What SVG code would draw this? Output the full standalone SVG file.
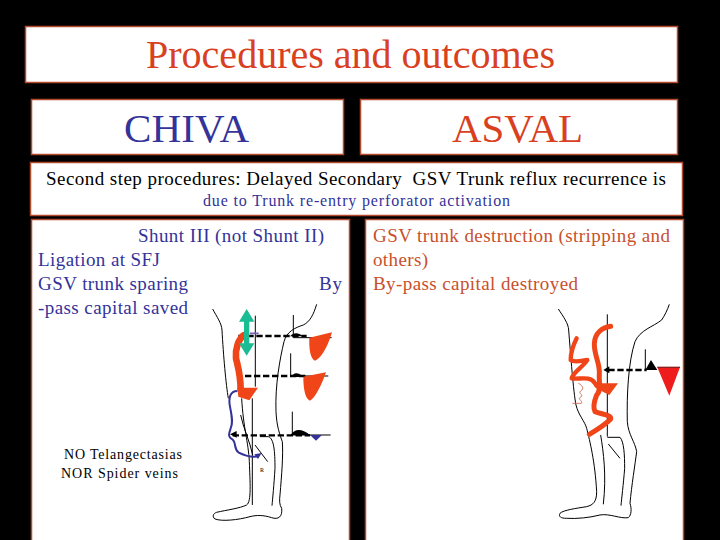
<svg xmlns="http://www.w3.org/2000/svg" width="720" height="540" viewBox="0 0 720 540">
<style>
.box{fill:#fff;stroke:#b5492c;stroke-width:1.5}
text{font-family:"Liberation Serif","Times New Roman",serif}
.r{fill:#d8401f}.b{fill:#333399}.k{fill:#000}
.s{fill:#c8502c}
.leg{fill:none;stroke:#000;stroke-width:3}
.dash{fill:none;stroke:#000;stroke-width:7;stroke-dasharray:19 8}
.ora{fill:#f04518;stroke:none}
.orl{fill:none;stroke:#f04518;stroke-linecap:round;stroke-linejoin:round}
.blu{fill:none;stroke:#333399;stroke-width:6}
</style>
<rect width="720" height="540" fill="#000"/>
<g id="title"><rect class="box" x="25.500" y="26.500" width="652" height="56"/><text class="r" x="146" y="68" font-size="40" textLength="409" lengthAdjust="spacing">Procedures and outcomes</text></g>
<g id="chiva"><rect class="box" x="31.500" y="99.500" width="312" height="55"/><text class="b" x="124" y="142" font-size="41" textLength="125" lengthAdjust="spacing">CHIVA</text></g>
<g id="asval"><rect class="box" x="360.500" y="99.500" width="317" height="55"/><text class="r" x="452" y="142" font-size="41" textLength="131" lengthAdjust="spacing">ASVAL</text></g>
<g id="second"><rect class="box" x="30.500" y="162.500" width="652" height="53"/>
<text class="k" x="46" y="185" font-size="19" textLength="620" lengthAdjust="spacing" xml:space="preserve">Second step procedures: Delayed Secondary  GSV Trunk reflux recurrence is</text>
<text class="b" x="203" y="206" font-size="16" textLength="307" lengthAdjust="spacing">due to Trunk re-entry perforator activation</text></g>
<g id="left-panel"><rect class="box" x="31.500" y="219.500" width="318" height="322"/>
<text class="b" x="138" y="242" font-size="19" textLength="186" lengthAdjust="spacing">Shunt III (not Shunt II)</text>
<text class="b" x="38" y="266" font-size="19" textLength="122" lengthAdjust="spacing">Ligation at SFJ</text>
<text class="b" x="38" y="290" font-size="19" textLength="150" lengthAdjust="spacing">GSV trunk sparing</text>
<text class="b" x="319" y="290" font-size="19" textLength="23" lengthAdjust="spacing">By</text>
<text class="b" x="38" y="314" font-size="19" textLength="150" lengthAdjust="spacing">-pass capital saved</text>
<text class="k" x="64" y="459" font-size="14" textLength="118" lengthAdjust="spacing">NO Telangectasias</text>
<text class="k" x="61" y="478" font-size="14" textLength="117" lengthAdjust="spacing">NOR Spider veins</text>
<text class="k" x="260" y="472" font-size="6">R</text>
</g>
<g id="right-panel"><rect class="box" x="365.500" y="219.500" width="318" height="322"/>
<text class="s" x="373" y="242" font-size="19" textLength="297" lengthAdjust="spacing">GSV trunk destruction (stripping and</text>
<text class="s" x="373" y="266" font-size="19" textLength="55" lengthAdjust="spacing">others)</text>
<text class="s" x="373" y="290" font-size="19" textLength="205" lengthAdjust="spacing">By-pass capital destroyed</text>
</g>
<g id="left-leg" transform="translate(200 295) scale(.3333)">
<path class="leg" d="M38 42C50 65 65 85 66 105C70 180 78 270 85 310"/>
<path class="leg" d="M350 28C340 60 330 80 310 90C285 98 260 110 252 140C240 190 225 270 228 350C230 395 240 420 247 440C250 480 245 540 240 600C238 615 238 630 245 640C248 665 235 675 215 668C190 660 170 660 150 665C115 675 65 680 45 672C35 665 40 655 50 652C80 645 120 640 140 630C155 620 150 560 148 500C145 440 130 400 125 310"/>
<path class="leg" d="M166 62V275M157 310V630M180 425H205C222 430 225 470 225 520C222 570 218 610 216 632M165 450L203 500"/>
<path class="leg" d="M122 360C130 400 150 440 158 480"/>
<path class="leg" d="M280 60V128H395M272 175V243H385M277 350V420H392"/>
<path class="dash" d="M115 123H320M135 243H320M98 421H330"/>
<path class="k" d="M270 124C280 114 292 110 310 124ZM272 246C280 236 290 226 310 246ZM272 420C285 400 305 400 330 420ZM90 418L110 408V428Z"/>
<path class="blu" d="M112 288C90 288 85 310 90 335C95 360 100 385 92 400C85 420 85 425 95 432C110 440 100 460 115 472C130 480 150 488 175 484"/>
<path fill="#333399" d="M163 478L185 474L174 492ZM330 420H366L348 437Z"/>
<path class="orl" stroke-width="20" d="M133 120C115 130 105 165 108 190C115 220 122 240 122 285"/>
<path class="ora" d="M112 278H174L148 316L115 305ZM328 128L396 112C385 150 365 190 345 197C330 190 327 160 328 128ZM310 245L378 232C365 270 345 310 330 317C315 310 310 280 310 245Z"/>
<path fill="#1abc93" d="M140 42L163 80H148V145H163L140 182L117 145H132V80H117Z"/>
<path fill="none" stroke="#7a5fb5" stroke-width="5" d="M150 115H176"/>
</g>
<g id="right-leg" transform="translate(540 295) scale(.3333)">
<path class="leg" d="M55 42C70 65 85 85 86 105C92 180 100 290 108 330C115 360 135 380 140 400C150 440 165 500 170 590C170 620 160 630 140 635C110 640 70 645 60 655C55 665 62 670 80 670C110 672 150 668 180 660C210 655 240 672 265 668C275 660 275 640 270 625C275 570 285 510 290 470C285 440 265 420 262 380C260 300 265 200 285 140C300 105 340 95 365 75C375 60 382 45 388 28"/>
<path class="leg" d="M202 58V425M182 420C190 470 200 540 190 628M202 427H240C252 440 254 480 254 520C250 570 245 610 243 632M205 447L240 490"/>
<path class="leg" d="M316 163V225"/>
<path class="dash" d="M205 225H320"/>
<path class="k" d="M190 225L208 214V235ZM316 225L333 195L352 225Z"/>
<path fill="#ee1c1c" d="M352 217H420L388 302Z"/><path d="M352 217H420" stroke="#8a2020" stroke-width="4"/>
<path fill="none" stroke="#c8633f" stroke-width="2.500" d="M115 265C125 270 135 280 122 288C112 295 135 300 120 308C112 312 130 318 124 325H97"/>
<path class="orl" stroke-width="15" d="M212 94C185 98 165 115 163 145C162 180 180 205 178 235C176 265 185 285 170 300C162 320 160 340 165 350C185 358 215 360 212 372C195 390 170 405 148 418"/>
<path class="orl" stroke-width="13" d="M110 130C100 150 92 175 92 195C105 205 130 195 142 195C130 215 100 230 95 250C115 255 150 240 165 265C170 275 178 280 190 275"/>
<path class="ora" d="M170 265H234L208 300L178 285Z"/>
</g>
</svg>
